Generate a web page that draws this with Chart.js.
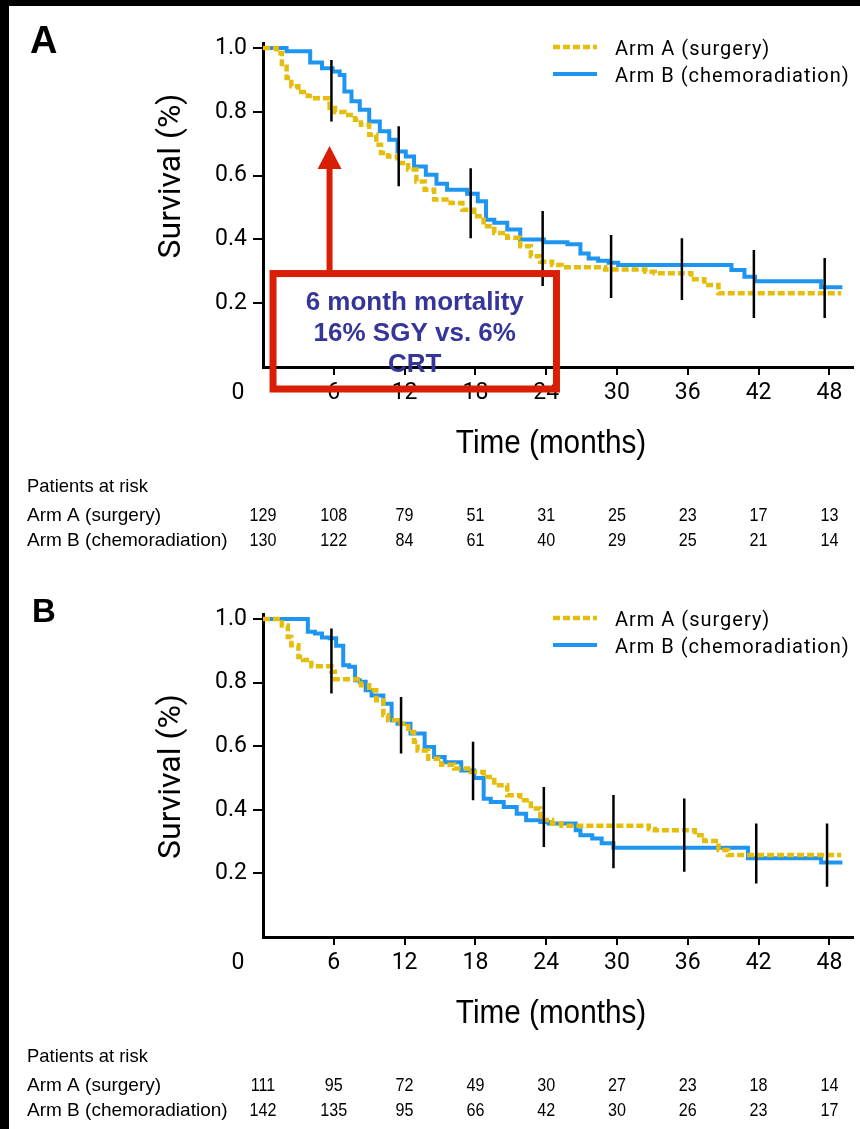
<!DOCTYPE html>
<html>
<head>
<meta charset="utf-8">
<script src="https://cdn.jsdelivr.net/npm/chart.js@4/dist/chart.umd.min.js"></script>
<style>
  html, body { margin: 0; padding: 0; background: #000; }
  #page { position: relative; width: 860px; height: 1129px; overflow: hidden; }
  #sheet { position: absolute; left: 9px; top: 6px; right: 0; bottom: 0; background: #fff; }
  canvas { position: absolute; left: 0; }
  #chartA { top: 0; }
  #chartB { top: 565px; }
</style>
</head>
<body>
<div id="page">
  <div id="sheet"></div>
  <canvas id="chartA" width="860" height="565"></canvas>
  <canvas id="chartB" width="860" height="564"></canvas>
</div>
<script>
// shared axes
const xTicks = [6, 12, 18, 24, 30, 36, 42, 48];
const yTicks = [0.2, 0.4, 0.6, 0.8, 1.0];
const riskTimes = [0, 6, 12, 18, 24, 30, 36, 42, 48];
const armLabels = ["Arm A (surgery)", "Arm B (chemoradiation)"];

// panel A - surgery (step times in months, survival after each step)
const aSurgTime = [0, 1.15, 1.6, 2.0, 2.4, 3.0, 3.8, 4.2, 5.65, 6.1, 6.9, 7.8, 8.3, 9.0, 9.6, 10.0, 10.6, 11.4, 12.3, 13.0, 13.7, 14.5, 15.9, 16.9, 17.9, 18.7, 19.6, 20.7, 21.8, 22.7, 23.5, 24.5, 25.3, 29.0, 32.4, 33.2, 36.3, 37.4, 38.6, 49.0];
const aSurgSurv = [1.0, 0.985, 0.95, 0.906, 0.88, 0.862, 0.85, 0.843, 0.812, 0.80, 0.79, 0.775, 0.76, 0.728, 0.697, 0.671, 0.66, 0.64, 0.619, 0.582, 0.556, 0.525, 0.514, 0.493, 0.473, 0.441, 0.42, 0.405, 0.379, 0.347, 0.33, 0.32, 0.313, 0.306, 0.299, 0.294, 0.275, 0.257, 0.231, 0.231];
// panel A - chemoradiation
const aChemoTime = [0, 2.0, 4.0, 5.0, 5.9, 6.5, 6.9, 7.5, 8.2, 9.0, 9.9, 10.7, 11.4, 12.1, 12.8, 13.8, 14.7, 15.6, 17.3, 18.2, 18.9, 19.6, 20.7, 21.8, 23.8, 25.8, 26.9, 27.6, 28.4, 29.3, 30.1, 39.7, 40.8, 41.7, 47.3, 49.1];
const aChemoSurv = [1.0, 0.99, 0.955, 0.937, 0.927, 0.916, 0.864, 0.833, 0.807, 0.77, 0.739, 0.713, 0.676, 0.66, 0.629, 0.603, 0.575, 0.556, 0.543, 0.52, 0.462, 0.452, 0.431, 0.40, 0.391, 0.385, 0.356, 0.34, 0.333, 0.327, 0.32, 0.304, 0.283, 0.269, 0.25, 0.25];
// panel A - censor mark clusters
const aCensorTime = [5.8, 11.5, 17.6, 23.7, 29.5, 35.5, 41.6, 47.6];
const aCensorLow = [0.77, 0.567, 0.404, 0.254, 0.216, 0.21, 0.154, 0.154];
const aCensorHigh = [0.963, 0.755, 0.623, 0.489, 0.414, 0.404, 0.367, 0.342];
const aRiskSurg = [129, 108, 79, 51, 31, 25, 23, 17, 13];
const aRiskChemo = [130, 122, 84, 61, 40, 29, 25, 21, 14];
const aNoteLines = ["6 month mortality", "16% SGY vs. 6%", "CRT"];

// panel B - surgery
const bSurgTime = [0, 1.6, 2.1, 2.4, 3.0, 3.4, 4.1, 5.8, 6.1, 8.3, 9.0, 9.6, 10.2, 10.6, 11.4, 12.3, 12.8, 13.1, 14.0, 15.1, 16.2, 17.6, 18.7, 19.6, 20.7, 21.8, 22.7, 23.5, 24.5, 25.3, 32.7, 33.2, 36.6, 37.4, 38.6, 39.4, 49.0];
const bSurgSurv = [1.0, 0.98, 0.944, 0.918, 0.881, 0.871, 0.852, 0.834, 0.811, 0.792, 0.776, 0.745, 0.698, 0.682, 0.671, 0.645, 0.614, 0.587, 0.561, 0.542, 0.53, 0.519, 0.503, 0.477, 0.446, 0.43, 0.404, 0.368, 0.357, 0.35, 0.34, 0.336, 0.32, 0.302, 0.274, 0.258, 0.258];
// panel B - chemoradiation
const bChemoTime = [0, 3.8, 4.4, 5.0, 5.65, 6.2, 6.8, 7.3, 7.8, 8.2, 8.7, 9.2, 10.2, 10.9, 11.4, 12.5, 13.7, 14.5, 15.4, 16.8, 17.9, 18.7, 19.3, 20.4, 21.5, 22.3, 23.5, 24.2, 26.5, 26.9, 27.9, 28.7, 29.7, 41.1, 47.3, 49.1];
const bChemoSurv = [1.0, 0.96, 0.955, 0.942, 0.94, 0.916, 0.855, 0.85, 0.808, 0.803, 0.776, 0.76, 0.734, 0.682, 0.671, 0.64, 0.598, 0.566, 0.55, 0.524, 0.50, 0.435, 0.425, 0.409, 0.388, 0.367, 0.362, 0.357, 0.336, 0.32, 0.31, 0.295, 0.281, 0.248, 0.234, 0.234];
// panel B - censor mark clusters
const bCensorTime = [5.8, 11.7, 17.8, 23.8, 29.7, 35.7, 41.8, 47.8];
const bCensorLow = [0.766, 0.577, 0.43, 0.283, 0.216, 0.205, 0.168, 0.158];
const bCensorHigh = [0.97, 0.755, 0.614, 0.472, 0.447, 0.436, 0.357, 0.357];
const bRiskSurg = [111, 95, 72, 49, 30, 27, 23, 18, 14];
const bRiskChemo = [142, 135, 95, 66, 42, 30, 26, 23, 17];

const YELLOW = "#E6BD0B";
const BLUE = "#1E95F0";
const SANS = '"Liberation Sans", Arial, sans-serif';

const steps = (t, s) => t.map((v, i) => ({ x: v, y: s[i] }));
const censor = (t, lo, hi) =>
  t.flatMap((v, i) => [{ x: v, y: lo[i] }, { x: v, y: hi[i] }, { x: v, y: null }]);

// text squeezed horizontally, to get the narrow look of the original
function narrowText(ctx, s, x, y, sx) {
  ctx.save();
  ctx.translate(x, y);
  ctx.scale(sx, 1);
  ctx.fillText(s, 0, 0);
  ctx.restore();
}

// letter, titles, legend, origin "0", risk table, annotation
const decor = {
  id: "decor",
  afterDraw(chart, args, o) {
    const { ctx, chartArea: a, scales: { x, y } } = chart;
    ctx.save();
    ctx.fillStyle = "#000";
    // panel letter
    ctx.font = `bold ${o.letterSize}px ${SANS}`;
    ctx.textAlign = "left";
    ctx.textBaseline = "alphabetic";
    ctx.fillText(o.letter, o.letterX, a.top + o.letterDy);
    // origin label
    ctx.font = "23px Roboto";
    ctx.textAlign = "center";
    ctx.textBaseline = "middle";
    ctx.fillText("0", x.getPixelForValue(0) - 25, a.bottom + 26);
    // y title
    ctx.save();
    ctx.translate(172, (a.top + a.bottom) / 2 + o.yTitleShift);
    ctx.rotate(-Math.PI / 2);
    ctx.font = "32px Roboto";
    ctx.fillText("Survival (%)", 0, 0);
    ctx.restore();
    // x title
    ctx.textBaseline = "alphabetic";
    ctx.font = `33px ${SANS}`;
    narrowText(ctx, "Time (months)", 551, a.bottom + 86, 0.9);
    // legend
    ctx.font = "20px Roboto";
    ctx.letterSpacing = "1px";
    ctx.textAlign = "left";
    const arms = chart.data.datasets.filter((d) => armLabels.includes(d.label));
    arms.forEach((d, i) => {
      const ly = a.top + 4 + i * 27;
      ctx.strokeStyle = d.borderColor;
      ctx.lineWidth = d.borderWidth;
      ctx.setLineDash(d.borderDash || []);
      ctx.beginPath();
      ctx.moveTo(a.right - 300, ly);
      ctx.lineTo(a.right - 256, ly);
      ctx.stroke();
      ctx.fillText(d.label, a.right - 238, ly + 7.5);
    });
    ctx.setLineDash([]);
    ctx.letterSpacing = "0px";
    // patients at risk
    ctx.font = `19px ${SANS}`;
    narrowText(ctx, "Patients at risk", 27, a.bottom + 125, 0.97);
    const rows = [[armLabels[0], o.riskSurg], [armLabels[1], o.riskChemo]];
    rows.forEach(([lab, vals], r) => {
      const by = a.bottom + 154 + r * 25;
      ctx.textAlign = "left";
      narrowText(ctx, lab, 27, by, 1.0);
      ctx.textAlign = "center";
      vals.forEach((v, i) => narrowText(ctx, String(v), x.getPixelForValue(riskTimes[i]), by, 0.85));
    });
    // annotation
    if (o.note) {
      const n = o.note;
      const l = x.getPixelForValue(n.t0), r = x.getPixelForValue(n.t1);
      const t = y.getPixelForValue(n.s0), b = y.getPixelForValue(n.s1);
      ctx.strokeStyle = "#D81E05";
      ctx.fillStyle = "#D81E05";
      ctx.lineWidth = 7;
      ctx.strokeRect(l, t, r - l, b - t);
      const ax = x.getPixelForValue(n.arrowT), tip = y.getPixelForValue(n.arrowTip);
      ctx.lineWidth = 6;
      ctx.beginPath();
      ctx.moveTo(ax, t - 3);
      ctx.lineTo(ax, tip + 20);
      ctx.stroke();
      ctx.beginPath();
      ctx.moveTo(ax, tip);
      ctx.lineTo(ax - 12, tip + 23);
      ctx.lineTo(ax + 12, tip + 23);
      ctx.closePath();
      ctx.fill();
      ctx.fillStyle = "#35359A";
      ctx.font = `bold 26px ${SANS}`;
      ctx.textAlign = "center";
      n.lines.forEach((s, i) => ctx.fillText(s, (l + r) / 2, t + 36.5 + i * 31));
    }
    ctx.restore();
  },
};

function makePanel(id, p) {
  return new Chart(document.getElementById(id), {
    type: "line",
    data: {
      datasets: [
        {
          label: "censored",
          data: censor(p.censorTime, p.censorLow, p.censorHigh),
          borderColor: "#000",
          borderWidth: 2.5,
          pointRadius: 0,
          spanGaps: false,
        },
        {
          label: armLabels[0],
          data: steps(p.surgTime, p.surgSurv),
          borderColor: YELLOW,
          borderWidth: 4.5,
          borderDash: [7, 3],
          stepped: true,
          pointRadius: 0,
        },
        {
          label: armLabels[1],
          data: steps(p.chemoTime, p.chemoSurv),
          borderColor: BLUE,
          borderWidth: 4,
          stepped: true,
          pointRadius: 0,
        },
      ],
    },
    plugins: [decor],
    options: {
      responsive: false,
      animation: false,
      devicePixelRatio: 1,
      layout: { padding: { top: p.areaTop, right: 7, left: 0, bottom: 0 } },
      scales: {
        x: {
          type: "linear",
          min: 0,
          max: 50,
          afterBuildTicks: (s) => { s.ticks = xTicks.map((v) => ({ value: v })); },
          afterFit: (s) => { s.height = p.canvasH - p.areaBottom; },
          border: { display: true, color: "#000", width: 3 },
          grid: { display: true, drawOnChartArea: false, drawTicks: true, tickLength: 8, color: "#000", lineWidth: 2 },
          ticks: { color: "#000", padding: 4, maxRotation: 0, font: { family: "Roboto", size: 23 } },
        },
        y: {
          type: "linear",
          min: 0,
          max: 1.016,
          afterBuildTicks: (s) => { s.ticks = yTicks.map((v) => ({ value: v })); },
          afterFit: (s) => { s.width = 263; },
          border: { display: true, color: "#000", width: 3 },
          grid: { display: true, drawOnChartArea: false, drawTicks: true, tickLength: 10, color: "#000", lineWidth: 2 },
          ticks: { color: "#000", padding: 6, font: { family: "Roboto", size: 23 }, callback: (v) => v.toFixed(1) },
        },
      },
      plugins: {
        legend: { display: false },
        tooltip: { enabled: false },
        decor: {
          letter: p.letter,
          letterSize: p.letterSize,
          letterX: p.letterX,
          letterDy: p.letterDy,
          yTitleShift: p.yTitleShift,
          riskSurg: p.riskSurg,
          riskChemo: p.riskChemo,
          note: p.note,
        },
      },
    },
  });
}

makePanel("chartA", {
  canvasH: 565, areaTop: 43, areaBottom: 367,
  letter: "A", letterSize: 38, letterX: 30, letterDy: 10, yTitleShift: -29,
  surgTime: aSurgTime, surgSurv: aSurgSurv, chemoTime: aChemoTime, chemoSurv: aChemoSurv,
  censorTime: aCensorTime, censorLow: aCensorLow, censorHigh: aCensorHigh,
  riskSurg: aRiskSurg, riskChemo: aRiskChemo,
  note: { t0: 0.85, t1: 24.87, s0: 0.293, s1: -0.069, arrowT: 5.64, arrowTip: 0.693, lines: aNoteLines },
});

makePanel("chartB", {
  canvasH: 564, areaTop: 49, areaBottom: 372,
  letter: "B", letterSize: 33, letterX: 32, letterDy: 8, yTitleShift: 1,
  surgTime: bSurgTime, surgSurv: bSurgSurv, chemoTime: bChemoTime, chemoSurv: bChemoSurv,
  censorTime: bCensorTime, censorLow: bCensorLow, censorHigh: bCensorHigh,
  riskSurg: bRiskSurg, riskChemo: bRiskChemo,
  note: null,
});
</script>
</body>
</html>
